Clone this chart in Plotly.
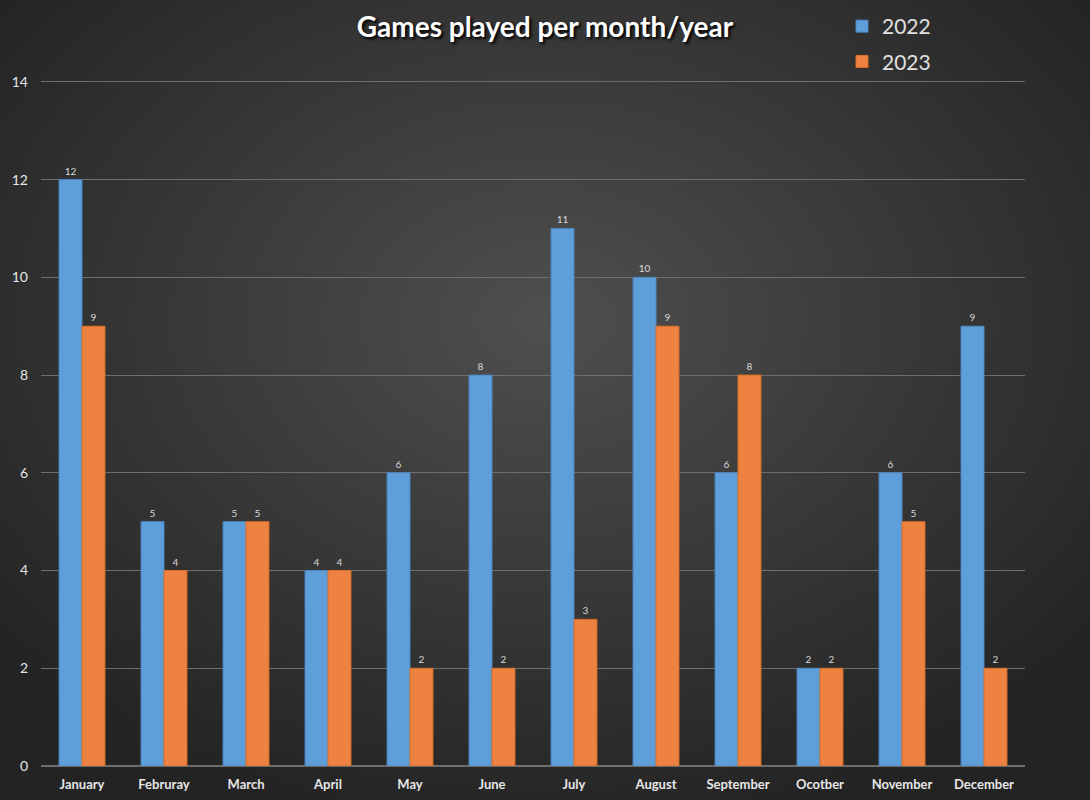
import plotly.graph_objects as go
import base64

months = ["January", "Februray", "March", "April", "May", "June", "July",
          "August", "September", "Ocotber", "November", "December"]
games_2022 = [12, 5, 5, 4, 6, 8, 11, 10, 6, 2, 6, 9]
games_2023 = [9, 4, 5, 4, 2, 2, 3, 9, 8, 2, 5, 2]
y_ticks = [0, 2, 4, 6, 8, 10, 12, 14]

W, H = 1090, 800
ml, mr, mt, mb = 41, 65, 77, 34
pw, ph = W - ml - mr, H - mt - mb

svg = f'''<svg xmlns="http://www.w3.org/2000/svg" width="{W}" height="{H}" viewBox="0 0 {W} {H}" preserveAspectRatio="none">
<defs><radialGradient id="g" cx="50%" cy="40%" r="65%">
<stop offset="0%" stop-color="#4f4f4f"/><stop offset="100%" stop-color="#232323"/>
</radialGradient></defs><rect width="{W}" height="{H}" fill="url(#g)"/></svg>'''
bg = "data:image/svg+xml;base64," + base64.b64encode(svg.encode()).decode()

fig = go.Figure()
fig.add_trace(go.Bar(
    x=months, y=games_2022, name="2022", legendgroup="a",
    marker=dict(color="#5f9fd9", line=dict(color="#4a86c0", width=1)),
    text=games_2022, textposition="outside",
    textfont=dict(size=10, color="#d9d9d9", family="Lato"), cliponaxis=False,
))
fig.add_trace(go.Bar(
    x=months, y=games_2023, name="2023", legendgroup="b",
    marker=dict(color="#ee8240", line=dict(color="#d96e28", width=1)),
    text=games_2023, textposition="outside",
    textfont=dict(size=10, color="#d9d9d9", family="Lato"), cliponaxis=False,
))

fig.update_layout(
    width=W, height=H,
    margin=dict(l=ml, r=mr, t=mt, b=mb, autoexpand=False),
    paper_bgcolor="rgba(0,0,0,0)", plot_bgcolor="rgba(0,0,0,0)",
    barmode="group", bargap=0.44, bargroupgap=0,
    title=dict(text="<b>Games played per month/year</b>", x=0.5, xanchor="center",
               y=1 - 27 / H, yanchor="middle",
               font=dict(size=28, color="#ffffff", family="Lato",
                         shadow="2px 2px 3px #000000")),
    legend=dict(x=(842 - ml) / pw, y=1 + (mt - 6) / ph, xanchor="left", yanchor="top",
                bgcolor="rgba(0,0,0,0)", font=dict(size=21, color="#e0e0e0", family="Lato"),
                traceorder="grouped", tracegroupgap=5, itemwidth=30),
    images=[dict(source=bg, xref="paper", yref="paper",
                 x=-ml / pw, y=1 + mt / ph, sizex=W / pw, sizey=H / ph,
                 xanchor="left", yanchor="top", sizing="stretch", layer="below")],
    xaxis=dict(showgrid=False, tickfont=dict(size=13, color="#e6e6e6", family="Lato"),
               ticks="", showline=True, linecolor="#6e6e6e", linewidth=1,
               ticklabelstandoff=6),
    yaxis=dict(range=[0, 14.1], tickvals=y_ticks, showgrid=True, gridcolor="#6e6e6e",
               gridwidth=1, zeroline=True, zerolinecolor="#6e6e6e",
               tickfont=dict(size=14, color="#e6e6e6", family="Lato"), ticklabelstandoff=12),
    font=dict(family="Lato"),
)
fig.update_xaxes(tickprefix="<b>", ticksuffix="</b>")
fig.update_yaxes(tickprefix="<b>", ticksuffix="</b>")

fig.write_html("out.html", config={"displayModeBar": False},
               post_script="document.body.style.margin='0';document.body.style.background='#222';")
